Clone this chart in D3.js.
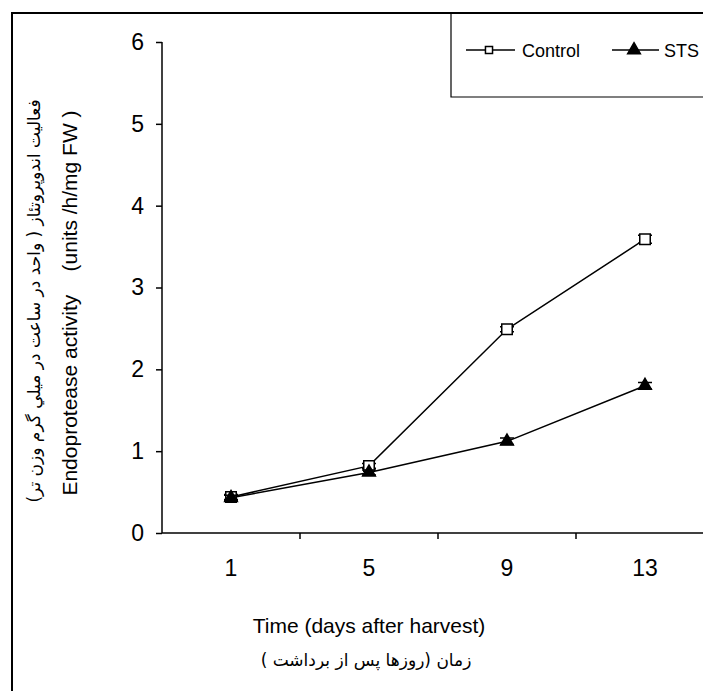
<!DOCTYPE html>
<html>
<head>
<meta charset="utf-8">
<script src="https://cdn.jsdelivr.net/npm/d3@7"></script>
<style>
  body { margin: 0; background: #fff; }
  text { font-family: "Liberation Sans", Arial, sans-serif; fill: #000; }
  .fa { font-family: "DejaVu Sans", "Noto Sans", sans-serif; }
</style>
</head>
<body>
<div id="chart"></div>
<script>
const days = ["1", "5", "9", "13"];
const controlValues = [0.44, 0.82, 2.49, 3.59];
const controlErrors = [0.03, 0.03, 0.03, 0.05];
const stsValues = [0.43, 0.74, 1.12, 1.80];
const stsErrors = [0.03, 0.03, 0.04, 0.04];
const yTicks = [0, 1, 2, 3, 4, 5, 6];
const seriesNames = ["Control", "STS"];

const width = 703, height = 691;

const svg = d3.select("#chart")
  .append("svg")
  .attr("width", width)
  .attr("height", height);

// outer frame (right and bottom edges fall outside the picture)
svg.append("path")
  .attr("d", "M12,691 V13 H703")
  .attr("fill", "none")
  .attr("stroke", "#000")
  .attr("stroke-width", 2);

const x = d3.scaleBand().domain(days).range([162, 714]).padding(0);
const y = d3.scaleLinear().domain([0, 6]).range([533, 42]);

// y axis
const yAxis = svg.append("g")
  .attr("transform", "translate(162,0)")
  .call(d3.axisLeft(y).tickValues(yTicks).tickSize(6).tickPadding(12).tickFormat(d3.format("d")));
yAxis.selectAll("text").style("font-size", "23px");
yAxis.select(".domain").attr("d", `M0,${y(6)}V${y(0)}`).attr("stroke-width", 1.5);
yAxis.selectAll(".tick line").attr("stroke-width", 1.5);

// x axis: labels at band centres, ticks at band edges
const xAxis = svg.append("g")
  .attr("transform", `translate(0,${y(0)})`)
  .call(d3.axisBottom(x).tickSize(0).tickPadding(27));
xAxis.select(".domain").attr("d", "M162,0H714").attr("stroke-width", 1.5);
xAxis.selectAll("text").style("font-size", "23px");
xAxis.selectAll(".edge")
  .data(days)
  .enter()
  .append("line")
  .attr("class", "edge")
  .attr("x1", d => x(d) + x.bandwidth())
  .attr("x2", d => x(d) + x.bandwidth())
  .attr("y1", 0)
  .attr("y2", 6)
  .attr("stroke", "#000")
  .attr("stroke-width", 1.5);

const cx = d => x(d) + x.bandwidth() / 2;
const line = d3.line().x(d => cx(d.day)).y(d => y(d.value));

const series = [
  { name: seriesNames[0], values: controlValues, errors: controlErrors, symbol: d3.symbolSquare, fill: "#fff", size: 110 },
  { name: seriesNames[1], values: stsValues, errors: stsErrors, symbol: d3.symbolTriangle, fill: "#000", size: 70 }
];

series.forEach(s => {
  const pts = days.map((d, i) => ({ day: d, value: s.values[i], err: s.errors[i] }));

  svg.append("path")
    .datum(pts)
    .attr("d", line)
    .attr("fill", "none")
    .attr("stroke", "#000")
    .attr("stroke-width", 1.5);

  const eb = svg.append("g");
  pts.forEach(p => {
    const x0 = cx(p.day);
    eb.append("path")
      .attr("d", `M${x0},${y(p.value + p.err)}V${y(p.value - p.err)}` +
        `M${x0 - 7},${y(p.value + p.err)}H${x0 + 7}` +
        `M${x0 - 7},${y(p.value - p.err)}H${x0 + 7}`)
      .attr("stroke", "#000")
      .attr("stroke-width", 1.5)
      .attr("fill", "none");
  });

  svg.append("g")
    .selectAll("path")
    .data(pts)
    .enter()
    .append("path")
    .attr("transform", p => `translate(${cx(p.day)},${y(p.value)})`)
    .attr("d", d3.symbol().type(s.symbol).size(s.size))
    .attr("fill", s.fill)
    .attr("stroke", "#000")
    .attr("stroke-width", 1.5);
});

// legend
svg.append("path")
  .attr("d", "M451,13 V97 H703")
  .attr("fill", "none")
  .attr("stroke", "#000")
  .attr("stroke-width", 1.2);

const legendItems = [
  { x1: 466, x2: 515, mx: 489, tx: 522 },
  { x1: 612, x2: 659, mx: 634, tx: 664 }
];
legendItems.forEach((it, i) => {
  const s = series[i];
  svg.append("line")
    .attr("x1", it.x1).attr("x2", it.x2)
    .attr("y1", 50).attr("y2", 50)
    .attr("stroke", "#000").attr("stroke-width", 1.5);
  svg.append("path")
    .attr("transform", `translate(${it.mx},50)`)
    .attr("d", d3.symbol().type(s.symbol).size(i === 0 ? 50 : 70))
    .attr("fill", s.fill)
    .attr("stroke", "#000")
    .attr("stroke-width", 1.5);
  svg.append("text")
    .attr("x", it.tx)
    .attr("y", 57)
    .style("font-size", "18px")
    .text(s.name);
});

// axis titles
svg.append("text")
  .attr("x", 369)
  .attr("y", 633)
  .attr("text-anchor", "middle")
  .style("font-size", "21px")
  .text("Time (days after harvest)");

svg.append("text")
  .attr("class", "fa")
  .attr("x", 366)
  .attr("y", 666)
  .attr("text-anchor", "middle")
  .attr("direction", "rtl")
  .style("font-size", "17px")
  .text("زمان (روزها پس از برداشت )");

svg.append("text")
  .attr("transform", "translate(77,303) rotate(-90)")
  .attr("text-anchor", "middle")
  .style("font-size", "21px")
  .style("white-space", "pre")
  .text("Endoprotease activity    (units /h/mg FW )");

svg.append("text")
  .attr("class", "fa")
  .attr("transform", "translate(40,301) rotate(-90)")
  .attr("text-anchor", "middle")
  .attr("direction", "rtl")
  .style("font-size", "17px")
  .text("فعاليت اندوپروتئاز ( واحد در ساعت در ميلي گرم وزن تر)");
</script>
</body>
</html>
